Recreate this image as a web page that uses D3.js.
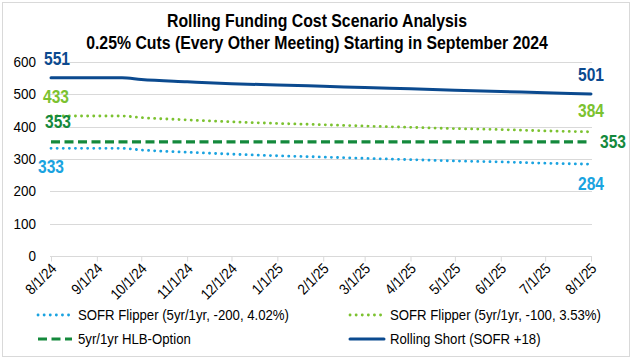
<!DOCTYPE html>
<html>
<head>
<meta charset="utf-8">
<script src="https://cdn.jsdelivr.net/npm/d3@7"></script>
<style>
  body { margin: 0; background: #fff; }
  text { font-family: "Liberation Sans", Arial, sans-serif; }
</style>
</head>
<body>
<div id="chart"></div>
<script>
// dates for the points (8/1/24 .. 8/1/25, plus the mid-Sept meeting)
var dates = ["2024-08-01","2024-09-01","2024-09-18","2024-10-01","2024-11-01","2024-12-01",
             "2025-01-01","2025-02-01","2025-03-01","2025-04-01","2025-05-01","2025-06-01",
             "2025-07-01","2025-08-01"];
var flipper200 = [333,333,333,328,321,315,310,306,302,298,294,291,287,284];
var flipper100 = [433,433,433,428,421,415,410,406,402,398,394,391,387,384];
var hlbOption  = [353,353,353,353,353,353,353,353,353,353,353,353,353,353];
var rollShort  = [551,551,551,546,539,533,529,525,521,517,513,509,505,501];
var yTicks = [0,100,200,300,400,500,600];
var titleLines = ["Rolling Funding Cost Scenario Analysis",
                  "0.25% Cuts (Every Other Meeting) Starting in September 2024"];

var W = 635, H = 362;
var parse = d3.timeParse("%Y-%m-%d");
var fmt = function(d){ return (d.getMonth()+1) + "/" + d.getDate() + "/" + String(d.getFullYear()).slice(2); };

// place a text at x,y and squeeze it horizontally (Liberation Sans -> narrow look)
function place(sel, fx, fy, sx) {
  sel.attr("transform", function(d,i){
    return "translate(" + fx(d,i) + "," + fy(d,i) + ") scale(" + sx + ",1)";
  });
}

var svg = d3.select("#chart").append("svg").attr("width", W).attr("height", H);

svg.append("rect").attr("x", 2.5).attr("y", 2.5).attr("width", 627).attr("height", 354)
  .attr("fill", "#fff").attr("stroke", "#d9d9d9");

var x = d3.scaleTime().domain([parse(dates[0]), parse(dates[dates.length-1])]).range([51, 591]);
var y = d3.scaleLinear().domain([0, 600]).range([256, 62]);

// title
svg.selectAll(".title").data(titleLines).enter().append("text")
  .attr("text-anchor", "middle").attr("font-size", 18).attr("font-weight", "bold")
  .attr("fill", "#000").text(function(d){ return d; })
  .call(place, function(){ return 317; }, function(d,i){ return 27 + i*22; }, 0.88);

// grid
svg.append("g").selectAll("line").data(yTicks.slice(1)).enter().append("line")
  .attr("x1", 50).attr("x2", 592).attr("y1", function(d){ return Math.round(y(d))+0.5; })
  .attr("y2", function(d){ return Math.round(y(d))+0.5; })
  .attr("stroke", "#d9d9d9").attr("stroke-width", 1);

// y axis labels
svg.append("g").selectAll("text").data(yTicks).enter().append("text")
  .attr("text-anchor", "end").attr("font-size", 15).attr("fill", "#000")
  .text(function(d){ return d; })
  .call(place, function(){ return 36; }, function(d){ return y(d) + 5; }, 0.9);

// x axis
var monthTicks = d3.timeMonth.range(parse("2024-08-01"), parse("2025-08-02"));
var xAxis = svg.append("g").attr("transform", "translate(0," + (Math.round(y(0))+0.5) + ")")
  .call(d3.axisBottom(x).tickValues(monthTicks).tickFormat(fmt).tickSize(5).tickSizeOuter(0));
xAxis.select(".domain").attr("stroke", "#d9d9d9").attr("d", "M50,0H592");
xAxis.selectAll(".tick line").attr("stroke", "#d9d9d9");
xAxis.selectAll(".tick text")
  .attr("font-size", 15).attr("fill", "#000").attr("font-family", null)
  .attr("text-anchor", "end").attr("x", 0).attr("y", 0).attr("dx", null).attr("dy", null)
  .attr("transform", "translate(6,13) rotate(-45) scale(0.88,1)");

var series = [
  { name: "SOFR Flipper (5yr/1yr, -200, 4.02%)", vals: flipper200, color: "#1aa3e0", dash: "0.1 6", width: 2.8, cap: "round" },
  { name: "SOFR Flipper (5yr/1yr, -100, 3.53%)", vals: flipper100, color: "#7cc230", dash: "0.1 6", width: 2.8, cap: "round" },
  { name: "5yr/1yr HLB-Option", vals: hlbOption, color: "#14893c", dash: "9 4.5", width: 3.2, cap: "butt" },
  { name: "Rolling Short (SOFR +18)", vals: rollShort, color: "#0b4a8f", dash: null, width: 3, cap: "round" }
];

var line = d3.line().x(function(d){ return x(d.date); }).y(function(d){ return y(d.v); })
  .curve(d3.curveMonotoneX);

series.forEach(function(s){
  var pts = dates.map(function(d,i){ return { date: parse(d), v: s.vals[i] }; });
  svg.append("path").datum(pts).attr("d", line)
    .attr("fill", "none").attr("stroke", s.color).attr("stroke-width", s.width)
    .attr("stroke-linecap", s.cap).attr("stroke-dasharray", s.dash);
});

// data labels (offsets from the first / last point)
var last = dates.length - 1;
var labels = [
  { s: 3, i: 0, dx: 6, dy: -13, anchor: "middle" },
  { s: 1, i: 0, dx: 5, dy: -13, anchor: "middle" },
  { s: 2, i: 0, dx: 7, dy: -14, anchor: "middle" },
  { s: 0, i: 0, dx: 0, dy: 25, anchor: "middle" },
  { s: 3, i: last, dx: 0, dy: -13, anchor: "middle" },
  { s: 1, i: last, dx: 0, dy: -15, anchor: "middle" },
  { s: 2, i: last, dx: 9, dy: 6, anchor: "start" },
  { s: 0, i: last, dx: 0, dy: 26, anchor: "middle" }
];
svg.append("g").selectAll("text").data(labels).enter().append("text")
  .attr("text-anchor", function(d){ return d.anchor; })
  .attr("font-size", 19).attr("font-weight", "bold")
  .attr("fill", function(d){ return series[d.s].color; })
  .text(function(d){ return series[d.s].vals[d.i]; })
  .call(place, function(d){ return x(parse(dates[d.i])) + d.dx; },
               function(d){ return y(series[d.s].vals[d.i]) + d.dy; }, 0.82);

// legend
var legendPos = [[38, 315], [350, 315], [38, 339], [350, 339]];
var lg = svg.append("g").selectAll("g").data(series).enter().append("g")
  .attr("transform", function(d,i){ return "translate(" + legendPos[i][0] + "," + legendPos[i][1] + ")"; });
lg.append("line").attr("x1", 0).attr("x2", 34).attr("y1", 0).attr("y2", 0)
  .attr("stroke", function(d){ return d.color; })
  .attr("stroke-width", function(d){ return d.width; })
  .attr("stroke-linecap", function(d){ return d.cap; })
  .attr("stroke-dasharray", function(d){ return d.dash; });
lg.append("text").attr("font-size", 15).attr("fill", "#000")
  .text(function(d){ return d.name; })
  .call(place, function(){ return 40; }, function(){ return 5; }, 0.88);
</script>
</body>
</html>
